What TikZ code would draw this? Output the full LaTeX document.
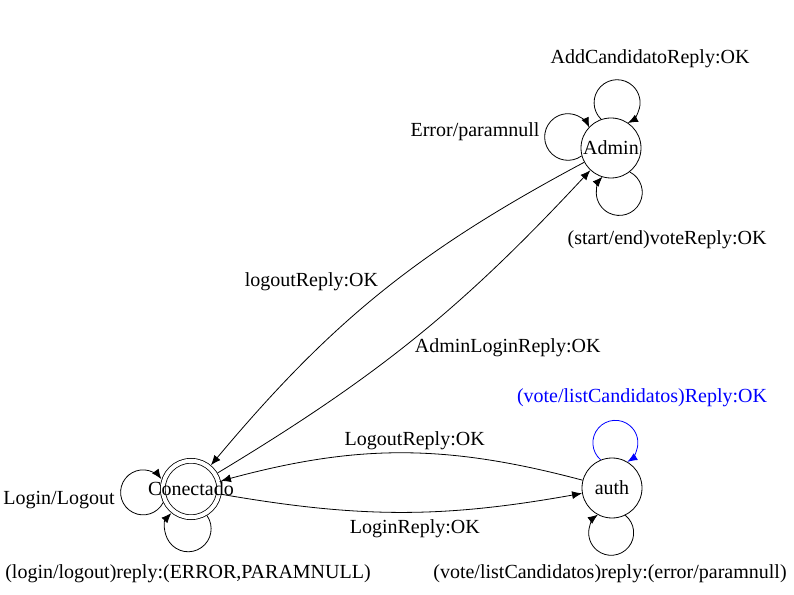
\documentclass[tikz,border=0pt]{standalone}
\usepackage{fontspec}
\setmainfont{Liberation Serif}
\usetikzlibrary{arrows.meta}
\definecolor{loopblue}{RGB}{0,0,255}
\tikzset{stnode/.style={draw, circle, minimum size=60pt, inner sep=0pt},
  lbl/.style={inner sep=1pt}}

\begin{document}
\begin{tikzpicture}[x=1pt, y=1pt, line width=0.8pt, >={Latex[length=10pt,width=8pt]},
  font=\fontsize{20}{24}\selectfont]
\useasboundingbox (0,0) rectangle (794,594);
% states
\node[stnode](admin) at (611,446){\makebox[0pt]{Admin}};
\node[stnode, double, double distance=4pt, minimum size=56.4pt, outer sep=2.8pt](con) at (191,105){\makebox[0pt]{Conectado}};
\node[stnode](auth) at (612,106){\makebox[0pt]{auth}};
% transitions between states
\draw [->](admin) to[bend right=11] node[lbl, left, pos=.46, xshift=-15pt]{logoutReply:OK} (con);
\draw [->](con) to[bend right=8] node[lbl, right, pos=.46, xshift=11pt]{AdminLoginReply:OK} (admin);
\draw [->](auth) to[bend right=15] node[lbl, above, pos=.5, xshift=13pt, yshift=2pt]{LogoutReply:OK} (con);
\draw [->](con) to[bend right=10] node[lbl, below, pos=.5, xshift=13pt, yshift=-6pt]{LoginReply:OK} (auth);
% self loops
\draw [->](admin.109) arc[start angle=226, end angle=-62, radius=23pt];
\draw [->](admin.195) arc[start angle=-54, end angle=-336, radius=23.3pt];
\draw [->](admin.308) arc[start angle=63, end angle=-223, radius=23pt];
\draw [->](con.206) arc[start angle=-27, end angle=-324, radius=22.5pt];
\draw [->](con.301) arc[start angle=35, end angle=-223, radius=23pt];
\draw [->, loopblue](auth.112) arc[start angle=229, end angle=-58, radius=22.5pt];
\draw [->](auth.296) arc[start angle=51, end angle=-234, radius=22.5pt];
% loop labels
\node[lbl](addlbl) at (650,535){AddCandidatoReply:OK};
\node[lbl](errlbl) at (475,462){Error/paramnull};
\node[lbl](votelbl) at (667,354){(start/end)voteReply:OK};
\node[lbl](loglbl) at (59,94){Login/Logout};
\node[lbl](logerrlbl) at (188,20){(login/logout)reply:(ERROR,PARAMNULL)};
\node[lbl, text=loopblue](listlbl) at (642,196){(vote/listCandidatos)Reply:OK};
\node[lbl](listerrlbl) at (610,20){(vote/listCandidatos)reply:(error/paramnull)};
\end{tikzpicture}
\end{document}
